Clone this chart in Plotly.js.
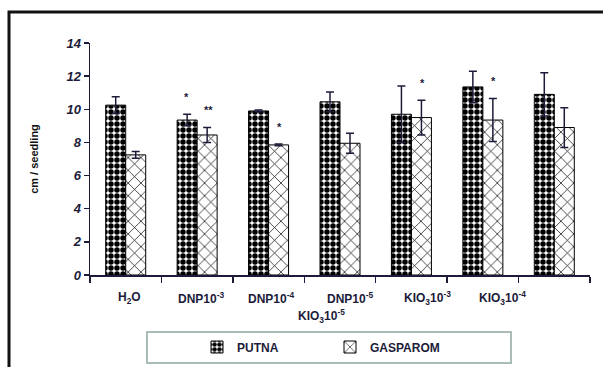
<!DOCTYPE html>
<html>
<head>
<meta charset="utf-8">
<script src="https://cdn.plot.ly/plotly-3.0.1.min.js"></script>
<style>html,body{margin:0;padding:0;background:#fff;}#chart{width:603px;height:367px;}</style>
</head>
<body>
<div id="chart"></div>
<script>
// ---- data ----
const categories = ['H2O', 'DNP10-3', 'DNP10-4', 'DNP10-5', 'KIO310-3', 'KIO310-4', 'KIO310-5'];
const tickLabels = ['H<sub>2</sub>O', 'DNP10<sup>-3</sup>', 'DNP10<sup>-4</sup>', 'DNP10<sup>-5</sup>',
                    'KIO<sub>3</sub>10<sup>-3</sup>', 'KIO<sub>3</sub>10<sup>-4</sup>', 'KIO<sub>3</sub>10<sup>-5</sup>'];
const putna       = [10.25, 9.35, 9.9, 10.45, 9.7, 11.35, 10.9];
const putnaErr    = [0.5, 0.35, 0.05, 0.6, 1.7, 0.95, 1.3];
const gasparom    = [7.25, 8.45, 7.85, 7.95, 9.5, 9.35, 8.9];
const gasparomErr = [0.2, 0.45, 0.05, 0.6, 1.05, 1.3, 1.2];
const putnaSig    = ['', '*', '', '', '', '', ''];
const gasparomSig = ['', '**', '*', '', '*', '*', ''];

// ---- layout helpers (positions, not data) ----
const labelX = [0.046, 1.054, 2.034, 3.14, 4.218, 5.268, 2.734];
const labelY = [-0.1, -0.1, -0.1, -0.1, -0.1, -0.1, -0.178];
const ink = '#1c1c3a';
const FONT = 'Liberation Sans, Arial, sans-serif';

const traces = [
  {
    type: 'bar', name: 'PUTNA', x: categories, y: putna,
    error_y: {type: 'data', array: putnaErr, visible: true, color: ink, thickness: 1.5, width: 4},
    marker: {color: '#ffffff', line: {color: '#000', width: 1},
             pattern: {shape: '.', fgcolor: '#000', bgcolor: '#fff', size: 6, solidity: 0.65, fillmode: 'replace'}}
  },
  {
    type: 'bar', name: 'GASPAROM', x: categories, y: gasparom,
    error_y: {type: 'data', array: gasparomErr, visible: true, color: ink, thickness: 1.5, width: 4},
    marker: {color: '#ffffff', line: {color: '#000', width: 1},
             pattern: {shape: 'x', fgcolor: '#000', bgcolor: '#fff', size: 9, solidity: 0.15, fillmode: 'replace'}}
  }
];

const annotations = [];
tickLabels.forEach((t, i) => {
  annotations.push({
    text: t, x: labelX[i], xref: 'x', y: labelY[i], yref: 'paper',
    showarrow: false, xanchor: 'center', yanchor: 'middle',
    font: {family: FONT, size: 12, color: ink, weight: 'bold'}
  });
});
categories.forEach((c, i) => {
  if (putnaSig[i]) annotations.push({
    text: putnaSig[i], x: c, xref: 'x', xshift: -11, y: putna[i] + putnaErr[i] + 1.15, yref: 'y',
    showarrow: false, yanchor: 'middle', yshift: -2,
    font: {family: FONT, size: 11, color: ink, weight: 'bold'}
  });
  if (gasparomSig[i]) annotations.push({
    text: gasparomSig[i], x: c, xref: 'x', xshift: 11, y: gasparom[i] + gasparomErr[i] + 1.15, yref: 'y',
    showarrow: false, yanchor: 'middle', yshift: -2,
    font: {family: FONT, size: 11, color: ink, weight: 'bold'}
  });
});

const layout = {
  width: 603, height: 367,
  margin: {l: 90, r: 13, t: 43, b: 92},
  paper_bgcolor: '#fff', plot_bgcolor: '#fff',
  barmode: 'group', bargap: 0.44, bargroupgap: 0,
  showlegend: true,
  legend: {
    orientation: 'h', xref: 'container', yref: 'container',
    x: 197 / 603, xanchor: 'left', y: (367 - 347) / 367, yanchor: 'middle',
    bgcolor: 'rgba(0,0,0,0)', borderwidth: 0,
    entrywidth: 88, entrywidthmode: 'pixels',
    font: {family: FONT, size: 12, color: ink, weight: 'bold'}
  },
  xaxis: {
    type: 'category', showline: true, linecolor: ink, linewidth: 1.5,
    ticks: 'outside', tickson: 'boundaries', ticklen: 6, tickwidth: 1.5, tickcolor: ink,
    showticklabels: false, showgrid: false, zeroline: false, fixedrange: true
  },
  yaxis: {
    range: [0, 14], dtick: 2, showline: true, linecolor: ink, linewidth: 1.5,
    ticks: 'outside', ticklen: 5, tickwidth: 1.5, tickcolor: ink,
    showgrid: false, zeroline: false, automargin: true,
    tickfont: {family: FONT, size: 13, color: ink, weight: 'bold', style: 'italic'},
    title: {text: 'cm / seedling', standoff: 25,
            font: {family: FONT, size: 11, color: '#111', weight: 'bold'}}
  },
  annotations: annotations,
  shapes: [
    {type: 'rect', xref: 'paper', yref: 'paper', x0: -0.162, x1: 1.06, y0: -0.5, y1: 1.134,
     line: {color: '#111', width: 3}, fillcolor: 'rgba(0,0,0,0)', layer: 'below'},
    {type: 'rect', xref: 'paper', yref: 'paper', x0: 0.114, x1: 0.842, y0: -0.379, y1: -0.246,
     line: {color: '#a9bcb8', width: 2}, fillcolor: 'rgba(0,0,0,0)', layer: 'below'}
  ]
};

Plotly.newPlot('chart', traces, layout, {staticPlot: true, displayModeBar: false});
</script>
</body>
</html>
